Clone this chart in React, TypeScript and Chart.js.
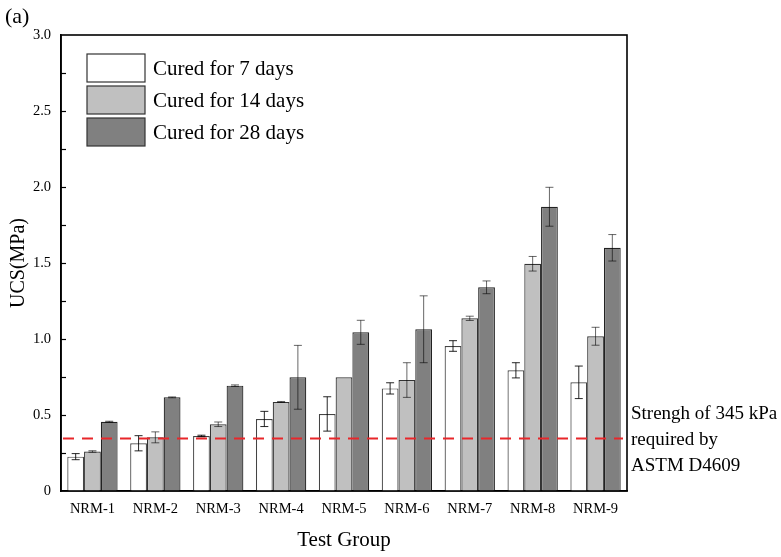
import React, { useEffect, useRef } from "react";
import { Chart, registerables } from "chart.js";

Chart.register(...registerables);

const categories = ["NRM-1", "NRM-2", "NRM-3", "NRM-4", "NRM-5", "NRM-6", "NRM-7", "NRM-8", "NRM-9"];
const seriesLabels = ["Cured for 7 days", "Cured for 14 days", "Cured for 28 days"];
const ucs7 = [0.226, 0.314, 0.362, 0.474, 0.507, 0.675, 0.954, 0.794, 0.715];
const ucs14 = [0.26, 0.353, 0.439, 0.586, 0.748, 0.73, 1.136, 1.495, 1.018];
const ucs28 = [0.456, 0.616, 0.693, 0.748, 1.044, 1.064, 1.34, 1.87, 1.6];
const err7 = [0.02, 0.05, 0.005, 0.05, 0.113, 0.037, 0.035, 0.05, 0.107];
const err14 = [0.005, 0.036, 0.015, 0.003, 0, 0.114, 0.014, 0.048, 0.059];
const err28 = [0.003, 0.003, 0.005, 0.21, 0.079, 0.22, 0.042, 0.128, 0.087];
const yTickLabels = ["0", "0.5", "1.0", "1.5", "2.0", "2.5", "3.0"];
const threshold = 0.345;
const thresholdText = ["Strengh of 345 kPa", "required by", "ASTM D4609"];

const FONT = '"Liberation Serif", "Times New Roman", serif';

export default function App() {
  const ref = useRef<HTMLCanvasElement | null>(null);

  useEffect(() => {
    const canvas = ref.current;
    if (!canvas) return;
    const errs = [err7, err14, err28];
    const errColors = ["rgba(0,0,0,0.85)", "rgba(0,0,0,0.6)", "rgba(0,0,0,0.6)"];

    const overlay = {
      id: "overlay",
      afterDatasetsDraw(chart: any) {
        const ctx = chart.ctx;
        const y = chart.scales.y;
        const area = chart.chartArea;
        chart.data.datasets.forEach((ds: any, di: number) => {
          const meta = chart.getDatasetMeta(di);
          meta.data.forEach((bar: any, i: number) => {
            const e = errs[di][i];
            if (!e) return;
            const v = ds.data[i];
            const yt = y.getPixelForValue(v + e);
            const yb = y.getPixelForValue(v - e);
            const x = bar.x;
            ctx.save();
            ctx.strokeStyle = errColors[di];
            ctx.lineWidth = 1;
            ctx.beginPath();
            ctx.moveTo(x, yt);
            ctx.lineTo(x, yb);
            ctx.moveTo(x - 4, yt);
            ctx.lineTo(x + 4, yt);
            ctx.moveTo(x - 4, yb);
            ctx.lineTo(x + 4, yb);
            ctx.stroke();
            ctx.restore();
          });
        });
        const ty = y.getPixelForValue(threshold);
        ctx.save();
        ctx.strokeStyle = "#e8262a";
        ctx.lineWidth = 2;
        ctx.setLineDash([11, 8]);
        ctx.beginPath();
        ctx.moveTo(area.left + 2, ty);
        ctx.lineTo(area.right - 4, ty);
        ctx.stroke();
        ctx.restore();
      },
      afterDraw(chart: any) {
        const ctx = chart.ctx;
        const y = chart.scales.y;
        const area = chart.chartArea;
        ctx.save();
        ctx.strokeStyle = "#000";
        ctx.lineWidth = 1.6;
        ctx.strokeRect(area.left, area.top, area.right - area.left, area.bottom - area.top);
        ctx.lineWidth = 1.2;
        for (let v = 0.25; v < 3; v += 0.25) {
          const py = Math.round(y.getPixelForValue(v)) + 0.5;
          ctx.beginPath();
          ctx.moveTo(area.left, py);
          ctx.lineTo(area.left + 5, py);
          ctx.stroke();
        }
        const boxX = 87, boxW = 58, boxH = 28;
        const boxYs = [54, 86, 118];
        chart.data.datasets.forEach((ds: any, di: number) => {
          ctx.fillStyle = ds.backgroundColor;
          ctx.fillRect(boxX, boxYs[di], boxW, boxH);
          ctx.strokeStyle = "#333";
          ctx.lineWidth = 1.2;
          ctx.strokeRect(boxX, boxYs[di], boxW, boxH);
          ctx.fillStyle = "#000";
          ctx.font = `21px ${FONT}`;
          ctx.textAlign = "left";
          ctx.textBaseline = "middle";
          ctx.fillText(ds.label, 153, boxYs[di] + boxH / 2 + 1);
        });
        ctx.font = `19px ${FONT}`;
        ctx.fillStyle = "#000";
        ctx.textAlign = "left";
        ctx.textBaseline = "middle";
        thresholdText.forEach((t, i) => ctx.fillText(t, 631, 414 + i * 26));
        ctx.font = `22px ${FONT}`;
        ctx.fillText("(a)", 5, 17);
        ctx.restore();
      },
    };

    const chart = new Chart(canvas, {
      type: "bar",
      data: {
        labels: categories,
        datasets: [
          { label: seriesLabels[0], data: ucs7, backgroundColor: "#ffffff", borderColor: "#444", borderWidth: 1.2 },
          { label: seriesLabels[1], data: ucs14, backgroundColor: "#c0c0c0", borderColor: "#333", borderWidth: 1.2 },
          { label: seriesLabels[2], data: ucs28, backgroundColor: "#808080", borderColor: "#222", borderWidth: 1.2 },
        ],
      },
      options: {
        animation: false,
        responsive: true,
        maintainAspectRatio: false,
        devicePixelRatio: 1,
        layout: { padding: { left: 0, top: 35, right: 154, bottom: 0 } },
        datasets: { bar: { categoryPercentage: 0.8, barPercentage: 1.0 } },
        plugins: { legend: { display: false }, tooltip: { enabled: false } },
        scales: {
          x: {
            grid: { display: false, drawTicks: false },
            border: { display: true, color: "#000", width: 1.6 },
            ticks: { color: "#000", font: { family: FONT, size: 14.5 }, padding: 9 },
            title: { display: true, text: "Test Group", color: "#000", font: { family: FONT, size: 21 }, padding: { top: 4, bottom: 4 } },
            afterFit(scale: any) { scale.height = 66; },
          },
          y: {
            min: 0,
            max: 3,
            grid: { display: false, drawTicks: false },
            border: { display: true, color: "#000", width: 1.6 },
            ticks: {
              stepSize: 0.5,
              color: "#000",
              font: { family: FONT, size: 14.5 },
              padding: 10,
              callback: (_v: any, i: number) => yTickLabels[i],
            },
            title: { display: true, text: "UCS(MPa)", color: "#000", font: { family: FONT, size: 20 }, padding: { top: 7, bottom: 2 } },
            afterFit(scale: any) { scale.width = 61; },
          },
        },
      },
      plugins: [overlay],
    });
    return () => chart.destroy();
  }, []);

  return (
    <div style={{ position: "fixed", left: 0, top: 0, width: 781, height: 557, background: "#fff" }}>
      <canvas ref={ref} />
    </div>
  );
}
